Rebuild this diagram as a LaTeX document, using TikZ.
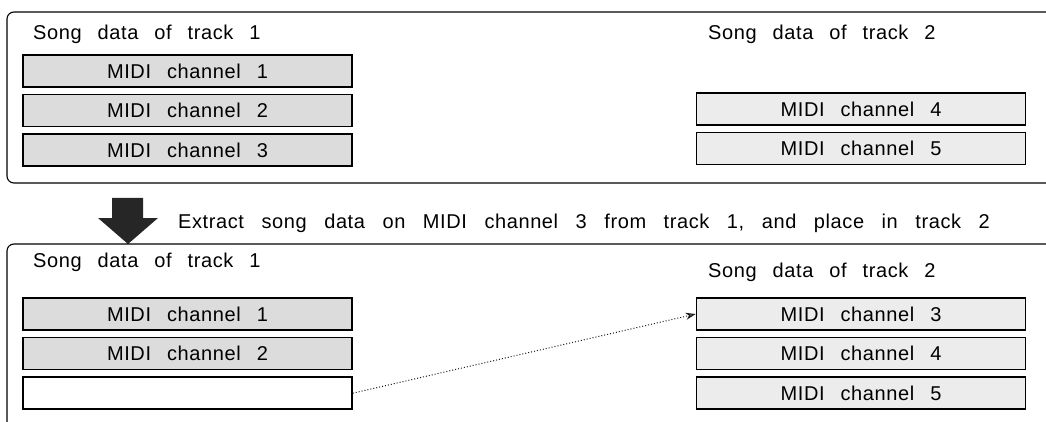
\documentclass[tikz,border=0pt]{standalone}
\usepackage{fontspec}
\setmainfont{Liberation Sans}[WordSpace=2.6, LetterSpace=3]
\newfontfamily\stepfont{Liberation Sans}[WordSpace=2.85, LetterSpace=3]
\usepackage{tikz}
\usetikzlibrary{positioning, arrows.meta, calc}
\definecolor{chanfill}{RGB}{220,220,220}
\definecolor{chanfillb}{RGB}{236,236,236}

\begin{document}
\begin{tikzpicture}[x=1pt, y=-1pt,
        panel/.style={draw, line width=1.1pt, rounded corners=7pt},
        chan/.style={draw, line width=1.6pt, minimum width=329pt, minimum height=32pt, inner sep=0pt, fill=chanfill, font=\fontsize{20}{22}\selectfont},
        chanr/.style={chan, fill=chanfillb},
        tracklabel/.style={anchor=base west, inner sep=0pt, font=\fontsize{20}{22}\selectfont},
        node distance=6pt
    ]
    \useasboundingbox (0,0) rectangle (1046,422);

    % before
    \draw[panel] (7,12) rectangle (1080,183);
    \node[tracklabel] (top1) at (33,40) {Song data of track 1};
    \node[tracklabel] (top2) at (708,40) {Song data of track 2};
    \node[chan] (t1a) at (187.5,71) {MIDI channel 1};
    \node[chan, below=of t1a] (t1b) {MIDI channel 2};
    \node[chan, below=of t1b] (t1c) {MIDI channel 3};
    \node[chanr] (t2d) at (861,109) {MIDI channel 4};
    \node[chanr, below=of t2d] (t2e) {MIDI channel 5};

    % step
    \fill[black!85] (112,198) -- (143,198) -- (143,218) -- (158,218) -- (128,244) -- (98,218) -- (112,218) -- cycle;
    \node[tracklabel, font=\fontsize{20}{22}\stepfont] (step) at (178,228) {Extract song data on MIDI channel 3 from track 1, and place in track 2};

    % after
    \draw[panel] (7,244) rectangle (1080,520);
    \node[tracklabel] (bot1) at (33,267) {Song data of track 1};
    \node[tracklabel] (bot2) at (708,277) {Song data of track 2};
    \node[chan] (b1a) at (187.5,314) {MIDI channel 1};
    \node[chan, below=of b1a] (b1b) {MIDI channel 2};
    \node[chan, below=of b1b, fill=white] (b1c) {};
    \node[chanr] (b2c) at (861,314) {MIDI channel 3};
    \node[chanr, below=of b2c] (b2d) {MIDI channel 4};
    \node[chanr, below=of b2d] (b2e) {MIDI channel 5};

    \draw[dotted, line width=1pt, black!90, -{Stealth[length=10pt, width=7pt, fill=black!55]}] (b1c.east) -- (b2c.west);
\end{tikzpicture}
\end{document}
